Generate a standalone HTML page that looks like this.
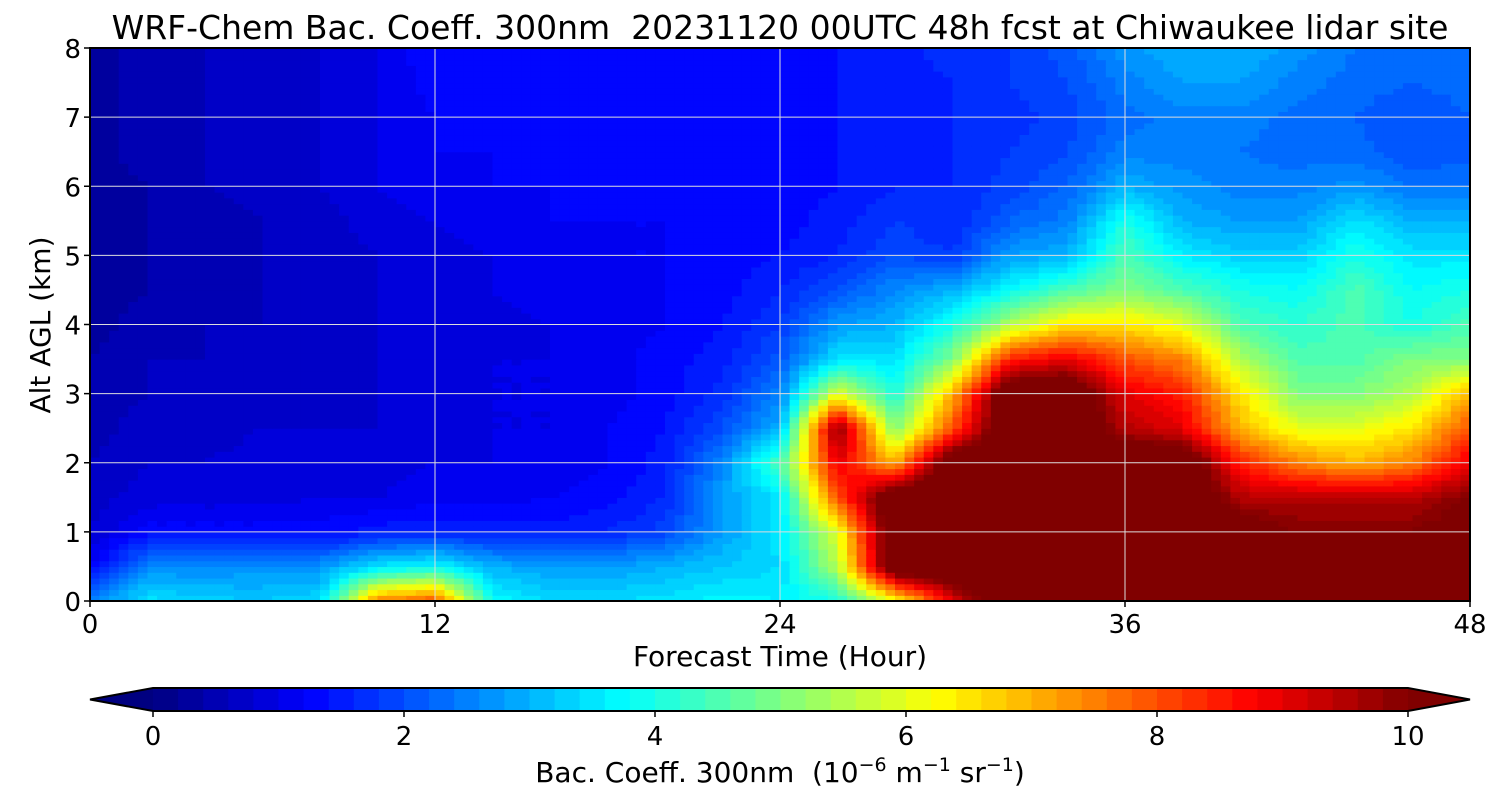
<!DOCTYPE html>
<html><head><meta charset="utf-8"><style>
body{margin:0;background:#fff;}
svg{display:block;font-family:"DejaVu Sans","Liberation Sans",sans-serif;}
</style></head><body>
<svg id="chart" width="1500" height="800" viewBox="0 0 1500 800">
<text x="780" y="39" font-size="33" text-anchor="middle" xml:space="preserve">WRF-Chem Bac. Coeff. 300nm  20231120 00UTC 48h fcst at Chiwaukee lidar site</text>
<g id="cells"></g>
<g id="grid"></g>
<rect x="90" y="48" width="1380" height="553" fill="none" stroke="#000" stroke-width="2"/>
<g id="axes" font-size="26"></g>
<text x="780" y="666" font-size="28" text-anchor="middle">Forecast Time (Hour)</text>
<text transform="translate(50,325) rotate(-90)" font-size="28" text-anchor="middle">Alt AGL (km)</text>
<g id="cbar"></g>
<text x="780" y="782" font-size="28" text-anchor="middle" xml:space="preserve">Bac. Coeff. 300nm  (10<tspan font-size="19" dy="-11">−6</tspan><tspan dy="11"> m</tspan><tspan font-size="19" dy="-11">−1</tspan><tspan dy="11"> sr</tspan><tspan font-size="19" dy="-11">−1</tspan><tspan dy="11">)</tspan></text>
</svg>
<script>
const times=[0,2,4,6,8,10,12,14,16,18,20,22,24,26,28,30,32,34,36,38,40,42,44,46,48];
const heights=[0,0.5,1,1.5,2,2.5,3,3.5,4,4.5,5,5.5,6,6.5,7,7.5,8];
const values=[
[2.5,3.5,3.3,3.2,3.4,7.5,8.0,3.8,3.4,3.4,3.5,3.7,3.6,4.0,6,9,11,11,11,11,11,11,11,11,11],
[1.2,2.6,2.6,2.7,2.7,3.5,3.8,3.0,2.8,2.8,3.0,3.2,3.4,5.5,11,11,11,11,11,11,11,11,11,11,11],
[0.8,1.3,1.3,1.3,1.3,1.5,1.6,1.5,1.5,1.6,1.9,2.8,3.5,6,11,11,11,11,11,11,10.5,10,10,10,10.5],
[0.7,0.9,0.9,0.9,1.0,1.0,1.1,1.1,1.2,1.3,1.6,2.8,3.5,8,11,11,11,11,11,11,9.5,9.5,9.5,9.5,10],
[0.6,0.8,0.8,0.9,0.9,0.9,1.0,1.0,1.1,1.2,1.5,2.6,4.5,9,7,11,11,11,11,11,8.5,7.5,7.0,7.5,9],
[0.5,0.7,0.7,0.8,0.8,0.8,0.9,1.0,1.0,1.2,1.4,2.0,3.0,10,5,8,11,11,9.5,9,7,6,6,6.5,8],
[0.5,0.6,0.7,0.7,0.7,0.8,0.9,1.0,1.0,1.1,1.3,1.7,2.5,6,4,7,11,11,9,8.5,6.5,5,5,5.5,7],
[0.4,0.6,0.6,0.7,0.7,0.8,0.9,1.0,1.0,1.1,1.3,1.5,2.1,3.5,3.5,5,8.5,9,8,7.5,5.5,4.5,4.5,5,5],
[0.3,0.5,0.6,0.6,0.7,0.8,0.9,0.9,1.0,1.1,1.2,1.4,1.8,2.8,3,4,5.5,6.5,6.5,6,4.5,4.2,4.5,4,4.5],
[0.3,0.4,0.5,0.6,0.7,0.8,0.9,1.0,1.1,1.1,1.2,1.3,1.6,2.0,2.6,3,3.8,4.5,5,4.5,4,3.8,4.5,3.8,4],
[0.3,0.4,0.5,0.6,0.7,0.8,0.9,1.0,1.1,1.2,1.2,1.3,1.4,1.6,2.0,1.8,2.8,3.0,4.5,3.6,3.3,3.3,4,3.5,3.5],
[0.3,0.4,0.5,0.6,0.7,0.9,1.0,1.1,1.2,1.2,1.2,1.3,1.3,1.5,1.8,1.6,2.2,2.5,4,3.0,2.8,2.8,3.5,3.0,3.0],
[0.3,0.4,0.6,0.7,0.8,1.0,1.1,1.2,1.2,1.3,1.3,1.3,1.3,1.4,1.6,1.6,1.9,2.2,3.0,2.7,2.5,2.5,2.7,2.4,2.4],
[0.3,0.5,0.6,0.7,0.8,1.0,1.2,1.2,1.3,1.3,1.3,1.3,1.3,1.4,1.5,1.6,1.8,2.0,2.5,2.5,2.4,2.3,2.3,2.0,2.1],
[0.3,0.5,0.6,0.7,0.8,1.0,1.2,1.3,1.3,1.3,1.3,1.3,1.3,1.4,1.5,1.6,1.7,1.9,2.3,2.5,2.5,2.3,2.2,2.0,2.2],
[0.3,0.5,0.6,0.7,0.8,1.0,1.3,1.3,1.3,1.3,1.3,1.3,1.3,1.4,1.5,1.6,1.8,2.0,2.5,2.8,2.8,2.5,2.3,2.2,2.3],
[0.3,0.5,0.6,0.7,0.8,1.0,1.4,1.3,1.3,1.3,1.3,1.3,1.3,1.4,1.5,1.7,1.8,2.1,2.7,3.0,3.0,2.7,2.4,2.3,2.4]
];
const xTicks=[0,12,24,36,48];
const yTicks=[0,1,2,3,4,5,6,7,8];
const cbTicks=[0,2,4,6,8,10];

const NS="http://www.w3.org/2000/svg";
const X0=90,X1=1470,Y0=601,Y1=48;
const xs=t=>X0+(t-0)/(48-0)*(X1-X0);
const ys=h=>Y0-(h-0)/(8-0)*(Y0-Y1);
const CB0=153,CB1=1408;
const cbx=v=>CB0+v/10*(CB1-CB0);
function clip(v){return Math.max(0,Math.min(1,v));}
function jet(v){
  if(v>=10)return "rgb(128,0,0)";
  if(v<0)return "rgb(0,0,128)";
  let q=Math.floor(v/0.2)*0.2+0.1;
  const t=q/10;
  const r=clip(1.5-Math.abs(4*t-3)),g=clip(1.5-Math.abs(4*t-2)),b=clip(1.5-Math.abs(4*t-1));
  return `rgb(${Math.round(r*255)},${Math.round(g*255)},${Math.round(b*255)})`;
}
function mk(tag,attrs,parent){const e=document.createElementNS(NS,tag);for(const k in attrs)e.setAttribute(k,attrs[k]);parent.appendChild(e);return e;}

const cells=document.getElementById('cells');
const S=6;
for(let j=0;j<heights.length-1;j++){
  for(let i=0;i<times.length-1;i++){
    for(let a=0;a<S;a++){for(let b=0;b<S;b++){
      const fx=(a+0.5)/S,fy=(b+0.5)/S;
      const v=values[j][i]*(1-fx)*(1-fy)+values[j][i+1]*fx*(1-fy)+values[j+1][i]*(1-fx)*fy+values[j+1][i+1]*fx*fy;
      const t0=times[i]+(times[i+1]-times[i])*a/S,t1=times[i]+(times[i+1]-times[i])*(a+1)/S;
      const h0=heights[j]+(heights[j+1]-heights[j])*b/S,h1=heights[j]+(heights[j+1]-heights[j])*(b+1)/S;
      const r=mk('rect',{x:xs(t0),y:ys(h1),width:xs(t1)-xs(t0)+0.6,height:ys(h0)-ys(h1)+0.6,fill:jet(v)},cells);
      
      
    }}
  }
}
const grid=document.getElementById('grid');
xTicks.forEach(t=>{const l=mk('line',{x1:xs(t),x2:xs(t),y1:Y0,y2:Y1,stroke:'#ddd','stroke-width':1},grid);
});
yTicks.forEach(h=>{const l=mk('line',{x1:X0,x2:X1,y1:ys(h),y2:ys(h),stroke:'#ddd','stroke-width':1},grid);
});
const axes=document.getElementById('axes');
xTicks.forEach(t=>{
  mk('line',{x1:xs(t),x2:xs(t),y1:Y0,y2:Y0+6,stroke:'#000','stroke-width':1.5},axes);
  const tx=mk('text',{x:xs(t),y:Y0+32,'text-anchor':'middle'},axes);tx.textContent=t;
  
});
yTicks.forEach(h=>{
  mk('line',{x1:X0-6,x2:X0,y1:ys(h),y2:ys(h),stroke:'#000','stroke-width':1.5},axes);
  const tx=mk('text',{x:X0-9,y:ys(h)+10,'text-anchor':'end'},axes);tx.textContent=h;
  
});
const cb=document.getElementById('cbar');
const CY0=688,CY1=711;
for(let k=0;k<50;k++){
  const r=mk('rect',{x:cbx(k*0.2),y:CY0,width:cbx(0.2)-cbx(0)+0.6,height:CY1-CY0,fill:jet(k*0.2+0.01)},cb);
  
}
const tl=mk('polygon',{points:`90,${(CY0+CY1)/2} ${CB0},${CY0} ${CB0},${CY1}`,fill:'rgb(0,0,128)'},cb);

const tr=mk('polygon',{points:`1470,${(CY0+CY1)/2} ${CB1},${CY0} ${CB1},${CY1}`,fill:'rgb(128,0,0)'},cb);

mk('polygon',{points:`90,${(CY0+CY1)/2} ${CB0},${CY0} ${CB1},${CY0} 1470,${(CY0+CY1)/2} ${CB1},${CY1} ${CB0},${CY1}`,fill:'none',stroke:'#000','stroke-width':2},cb);
cbTicks.forEach(v=>{
  mk('line',{x1:cbx(v),x2:cbx(v),y1:CY1,y2:CY1+6,stroke:'#000','stroke-width':1.5},cb);
  const tx=mk('text',{x:cbx(v),y:CY1+34,'text-anchor':'middle','font-size':26},cb);tx.textContent=v;
  
});
</script>
</body></html>
